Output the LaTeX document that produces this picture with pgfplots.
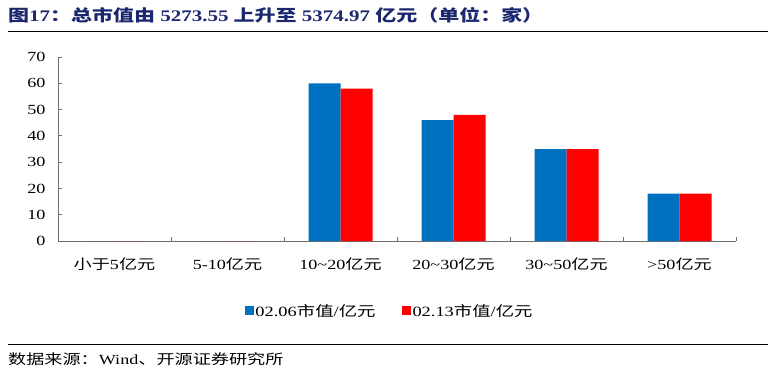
\documentclass[border=0pt]{standalone}
\usepackage{fontspec}
\setmainfont{Liberation Serif}[FakeStretch=1.3]
\newfontfamily\cjk{Noto Sans CJK SC}[FakeStretch=1.3]
\usepackage{pgfplots}
\pgfplotsset{compat=1.18}
\definecolor{titleblue}{RGB}{28,40,110}
\definecolor{barblue}{RGB}{0,112,192}
\definecolor{barred}{RGB}{255,0,0}
\definecolor{axisgray}{RGB}{110,110,110}
\begin{document}
\begin{tikzpicture}
\path[use as bounding box] (0bp,0bp) rectangle (774bp,-374bp);
\node[anchor=base west, inner sep=0pt, text=titleblue, font=\fontsize{16.2}{16.2}\selectfont\bfseries] at (8bp,-21bp) {{\cjk 图}17{\cjk ：总市值由} 5273.55 {\cjk 上升至} 5374.97 {\cjk 亿元（单位：家）}};
\draw[line width=1bp] (8bp,-31.5bp) -- (768bp,-31.5bp);
\draw[line width=1bp] (8bp,-344bp) -- (768bp,-344bp);
\node[anchor=base west, inner sep=0pt, font=\fontsize{14}{14}\selectfont] at (8bp,-364bp) {{\cjk 数据来源：}Wind{\cjk 、开源证券研究所}};
\begin{axis}[
  at={(58bp,-241bp)}, anchor=south west,
  scale only axis, width=678bp, height=184bp,
  ybar=0pt, bar width=32bp,
  ymin=0, ymax=70, ytick={0,10,...,70},
  xmin=-0.5, xmax=5.5,
  xtick={0,1,2,3,4,5},
  xticklabels={{\cjk 小于}5{\cjk 亿元}, 5-10{\cjk 亿元}, 10\textasciitilde 20{\cjk 亿元}, 20\textasciitilde 30{\cjk 亿元}, 30\textasciitilde 50{\cjk 亿元}, >50{\cjk 亿元}},
  minor xtick={-0.5,0.5,1.5,2.5,3.5,4.5,5.5},
  axis lines=left,
  axis line style={-, draw=axisgray, line width=0.8bp},
  tick align=inside,
  major tick length=4bp, minor tick length=4bp,
  xtick style={draw=none},
  minor x tick style={draw=axisgray, line width=0.8bp},
  ytick style={draw=axisgray, line width=0.8bp},
  tick label style={font=\fontsize{14}{14}\selectfont},
  /pgf/number format/assume math mode=true,
  xticklabel style={yshift=-13bp},
  yticklabel style={xshift=-9bp},
  legend style={at={(0.489,-0.38)}, anchor=center, draw=none, fill=none,
    font=\fontsize{14.2}{14.2}\selectfont,
    /tikz/every even column/.append style={column sep=24bp}},
  legend columns=2,
  legend image code/.code={\fill[#1] (0bp,-4.5bp) rectangle (9bp,4.5bp);},
]
\addplot[fill=barblue, draw=none] coordinates {(0,0) (1,0) (2,60) (3,46) (4,35) (5,18)};
\addplot[fill=barred, draw=none] coordinates {(0,0) (1,0) (2,58) (3,48) (4,35) (5,18)};
\legend{02.06{\cjk 市值}/{\cjk 亿元}, 02.13{\cjk 市值}/{\cjk 亿元}}
\end{axis}
\end{tikzpicture}
\end{document}
